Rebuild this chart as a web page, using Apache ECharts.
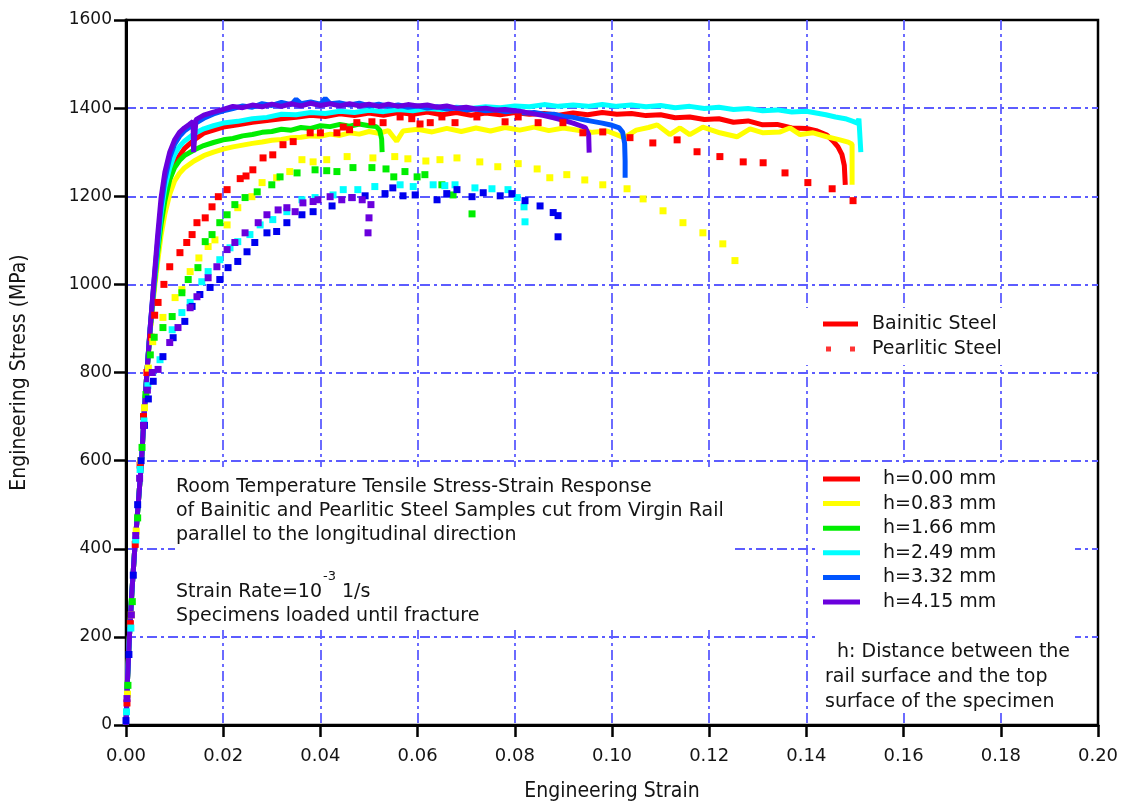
<!DOCTYPE html>
<html>
<head>
<meta charset="utf-8">
<script src="https://cdn.jsdelivr.net/npm/echarts@6/dist/echarts.min.js"></script>
<style>
  html, body { margin: 0; padding: 0; background: #ffffff; }
  #chart { width: 1126px; height: 807px; }
</style>
</head>
<body>
<div id="chart"></div>
<script>
// Tensile test curves: [engineering strain, engineering stress (MPa)]

// Bainitic steel (continuous records)
const bainH000 = [[0,0],[0.0003,100],[0.0007,200],[0.0012,300],[0.0018,400],[0.0025,500],[0.0032,600],[0.0037,700],[0.0043,800],[0.005,900],[0.0058,1000],[0.0065,1070],[0.0072,1140],[0.008,1195],[0.009,1240],[0.010,1272],[0.011,1292],[0.012,1308],[0.014,1328],[0.016,1343],[0.018,1350],[0.020,1357],[0.023,1362],[0.026,1368],[0.029,1372],[0.032,1376],[0.035,1379],[0.038,1384],[0.041,1381],[0.044,1387],[0.047,1383],[0.050,1389],[0.053,1384],[0.056,1390],[0.059,1386],[0.062,1391],[0.065,1385],[0.068,1390],[0.071,1384],[0.074,1389],[0.077,1385],[0.080,1390],[0.083,1386],[0.086,1388],[0.089,1384],[0.092,1389],[0.095,1385],[0.098,1390],[0.101,1386],[0.104,1388],[0.107,1383],[0.110,1385],[0.113,1378],[0.116,1380],[0.119,1374],[0.122,1376],[0.125,1368],[0.128,1371],[0.131,1362],[0.134,1363],[0.137,1355],[0.140,1354],[0.142,1349],[0.1442,1339],[0.1455,1325],[0.1465,1312],[0.1473,1295],[0.1478,1270],[0.148,1226]];
const bainH083 = [[0,0],[0.0003,100],[0.0007,200],[0.0012,300],[0.0018,400],[0.0025,500],[0.0032,600],[0.0037,700],[0.0043,800],[0.005,895],[0.0058,985],[0.0065,1050],[0.0072,1110],[0.008,1160],[0.009,1205],[0.010,1235],[0.011,1252],[0.012,1264],[0.014,1280],[0.016,1292],[0.018,1300],[0.020,1307],[0.022,1312],[0.024,1316],[0.026,1320],[0.028,1323],[0.030,1327],[0.032,1329],[0.034,1333],[0.036,1334],[0.038,1337],[0.040,1336],[0.042,1341],[0.044,1338],[0.046,1344],[0.048,1341],[0.050,1347],[0.052,1343],[0.054,1349],[0.0557,1325],[0.057,1348],[0.060,1352],[0.063,1346],[0.066,1354],[0.069,1347],[0.072,1355],[0.075,1348],[0.078,1356],[0.081,1350],[0.084,1357],[0.087,1349],[0.090,1355],[0.093,1350],[0.096,1345],[0.099,1348],[0.1025,1333],[0.105,1350],[0.1075,1356],[0.1093,1362],[0.1119,1340],[0.114,1355],[0.116,1340],[0.1187,1357],[0.1222,1344],[0.1257,1335],[0.1284,1353],[0.1311,1344],[0.1346,1346],[0.1366,1355],[0.1387,1340],[0.1414,1344],[0.1442,1335],[0.1469,1328],[0.1486,1323],[0.1494,1318],[0.1494,1226]];
const bainH166 = [[0,0],[0.0003,100],[0.0007,200],[0.0012,300],[0.0018,400],[0.0025,500],[0.0032,600],[0.0037,700],[0.0043,800],[0.005,900],[0.0058,995],[0.0065,1070],[0.0072,1135],[0.008,1190],[0.009,1238],[0.010,1265],[0.011,1281],[0.012,1292],[0.014,1305],[0.016,1315],[0.018,1322],[0.020,1328],[0.022,1331],[0.024,1337],[0.026,1340],[0.028,1345],[0.030,1347],[0.032,1352],[0.034,1350],[0.036,1356],[0.038,1354],[0.040,1360],[0.042,1358],[0.044,1363],[0.046,1359],[0.048,1364],[0.050,1360],[0.0515,1358],[0.0522,1350],[0.0526,1330],[0.0527,1300]];
const bainH249 = [[0,0],[0.0003,100],[0.0007,200],[0.0012,300],[0.0018,400],[0.0025,500],[0.0032,600],[0.0037,700],[0.0043,800],[0.005,905],[0.0058,1005],[0.0065,1085],[0.0072,1160],[0.008,1220],[0.009,1265],[0.010,1295],[0.011,1313],[0.012,1325],[0.014,1342],[0.016,1353],[0.018,1360],[0.020,1366],[0.023,1370],[0.026,1376],[0.029,1379],[0.032,1386],[0.035,1385],[0.038,1390],[0.041,1388],[0.044,1393],[0.047,1390],[0.050,1395],[0.053,1392],[0.056,1397],[0.059,1394],[0.062,1399],[0.065,1397],[0.068,1402],[0.071,1399],[0.074,1403],[0.077,1401],[0.080,1405],[0.083,1403],[0.086,1408],[0.089,1404],[0.092,1407],[0.095,1404],[0.098,1408],[0.101,1404],[0.104,1407],[0.107,1403],[0.110,1406],[0.113,1401],[0.116,1404],[0.119,1399],[0.122,1402],[0.125,1397],[0.128,1399],[0.131,1394],[0.134,1396],[0.137,1391],[0.140,1393],[0.142,1389],[0.144,1385],[0.146,1380],[0.148,1376],[0.1496,1370],[0.1505,1366],[0.1508,1376],[0.1512,1376],[0.1512,1300]];
const bainH332 = [[0,0],[0.0003,100],[0.0007,200],[0.0012,300],[0.0018,400],[0.0025,500],[0.0032,600],[0.0037,700],[0.0043,800],[0.005,905],[0.0058,1010],[0.0065,1095],[0.0072,1175],[0.008,1238],[0.009,1288],[0.010,1318],[0.011,1336],[0.012,1348],[0.014,1364],[0.016,1377],[0.018,1387],[0.020,1394],[0.022,1399],[0.024,1405],[0.026,1402],[0.028,1410],[0.030,1406],[0.032,1413],[0.034,1408],[0.035,1420],[0.036,1410],[0.038,1414],[0.040,1409],[0.041,1422],[0.042,1410],[0.044,1412],[0.046,1407],[0.048,1411],[0.050,1405],[0.052,1409],[0.054,1404],[0.056,1407],[0.058,1402],[0.060,1405],[0.062,1400],[0.064,1403],[0.066,1398],[0.068,1400],[0.070,1396],[0.072,1398],[0.074,1394],[0.076,1396],[0.078,1392],[0.080,1394],[0.082,1389],[0.084,1390],[0.086,1386],[0.088,1386],[0.090,1381],[0.092,1379],[0.094,1374],[0.096,1370],[0.098,1366],[0.100,1361],[0.1015,1355],[0.1022,1345],[0.1026,1320],[0.1027,1280],[0.1027,1242]];
const bainH415 = [[0,0],[0.0003,100],[0.0007,200],[0.0012,300],[0.0018,400],[0.0025,500],[0.0032,600],[0.0037,700],[0.0043,800],[0.005,905],[0.0058,1015],[0.0065,1110],[0.0072,1195],[0.008,1255],[0.009,1300],[0.010,1328],[0.011,1345],[0.012,1355],[0.013,1363],[0.0138,1370],[0.0139,1300],[0.0143,1300],[0.0144,1374],[0.016,1384],[0.018,1391],[0.020,1397],[0.022,1404],[0.024,1401],[0.026,1407],[0.028,1403],[0.030,1409],[0.032,1404],[0.034,1410],[0.036,1405],[0.038,1411],[0.040,1406],[0.042,1410],[0.044,1405],[0.046,1410],[0.048,1405],[0.050,1409],[0.052,1404],[0.054,1409],[0.056,1404],[0.058,1408],[0.060,1405],[0.062,1407],[0.064,1402],[0.066,1405],[0.068,1400],[0.070,1402],[0.072,1398],[0.074,1400],[0.076,1396],[0.078,1397],[0.080,1394],[0.082,1391],[0.084,1387],[0.086,1383],[0.088,1378],[0.090,1372],[0.092,1366],[0.0935,1360],[0.0945,1356],[0.0952,1340],[0.0953,1299]];

// Pearlitic steel (sampled records)
const pearlH000 = [[0.0002,50],[0.0009,230],[0.0019,410],[0.0029,590],[0.0036,700],[0.0043,800],[0.0052,880],[0.0059,930],[0.0066,959],[0.0078,1000],[0.009,1040],[0.0111,1072],[0.0125,1095],[0.0136,1113],[0.0146,1140],[0.0163,1151],[0.0177,1176],[0.019,1199],[0.0208,1215],[0.0235,1240],[0.0247,1246],[0.0261,1260],[0.0282,1287],[0.0302,1294],[0.0323,1317],[0.0344,1324],[0.0379,1344],[0.040,1344],[0.0434,1344],[0.0447,1357],[0.046,1351],[0.0475,1367],[0.0506,1369],[0.0529,1367],[0.0564,1380],[0.0588,1376],[0.0605,1364],[0.0626,1367],[0.065,1380],[0.0677,1367],[0.0722,1380],[0.078,1369],[0.0807,1380],[0.0848,1367],[0.0899,1367],[0.094,1344],[0.0981,1346],[0.1037,1333],[0.1084,1321],[0.1134,1328],[0.1175,1301],[0.1222,1290],[0.127,1278],[0.1311,1276],[0.1356,1253],[0.1403,1231],[0.1453,1217],[0.1496,1190]];
const pearlH083 = [[0.0003,70],[0.0011,250],[0.0021,440],[0.003,600],[0.0038,720],[0.0046,810],[0.0055,870],[0.0076,925],[0.0101,970],[0.0115,988],[0.0132,1029],[0.015,1060],[0.0169,1086],[0.0183,1101],[0.0208,1135],[0.023,1174],[0.0259,1199],[0.028,1231],[0.031,1242],[0.0337,1256],[0.0362,1283],[0.0385,1278],[0.0413,1283],[0.0455,1290],[0.0508,1287],[0.0553,1290],[0.058,1285],[0.0617,1280],[0.0646,1283],[0.0681,1287],[0.0728,1278],[0.0765,1267],[0.0807,1274],[0.0846,1262],[0.0872,1242],[0.0907,1249],[0.0944,1237],[0.0981,1226],[0.1031,1217],[0.1064,1194],[0.1105,1167],[0.1146,1140],[0.1187,1117],[0.1228,1092],[0.1253,1054]];
const pearlH166 = [[0.0004,90],[0.0013,280],[0.0024,470],[0.0033,630],[0.0041,750],[0.005,840],[0.0058,880],[0.0076,902],[0.0095,927],[0.0115,981],[0.0128,1011],[0.0148,1038],[0.0163,1097],[0.0177,1113],[0.0193,1140],[0.0208,1158],[0.0224,1181],[0.0245,1197],[0.027,1210],[0.03,1226],[0.0317,1244],[0.0352,1253],[0.0389,1260],[0.0413,1258],[0.0434,1256],[0.0467,1265],[0.0506,1265],[0.0535,1262],[0.0551,1244],[0.0574,1256],[0.0599,1244],[0.0615,1249],[0.065,1226],[0.0673,1203],[0.0712,1160]];
const pearlH249 = [[0.0001,30],[0.001,220],[0.002,420],[0.0029,580],[0.0037,690],[0.0045,770],[0.0055,800],[0.007,829],[0.0095,897],[0.0115,936],[0.0132,959],[0.0156,1006],[0.0169,1029],[0.0193,1056],[0.0214,1083],[0.023,1097],[0.0255,1113],[0.0276,1135],[0.0302,1147],[0.0331,1165],[0.0362,1192],[0.0389,1197],[0.0426,1203],[0.0447,1215],[0.0477,1215],[0.0512,1222],[0.0564,1226],[0.0591,1222],[0.0632,1226],[0.0656,1224],[0.0677,1226],[0.0718,1219],[0.0753,1217],[0.0786,1215],[0.0805,1197],[0.0819,1176],[0.0821,1142]];
const pearlH332 = [[0,10],[0.0006,160],[0.0015,340],[0.0024,500],[0.0031,600],[0.0038,680],[0.0046,740],[0.0056,780],[0.0076,836],[0.0097,879],[0.0121,916],[0.0136,950],[0.0152,977],[0.0173,993],[0.0193,1011],[0.021,1038],[0.023,1052],[0.0249,1074],[0.0265,1095],[0.029,1117],[0.031,1120],[0.0331,1140],[0.0362,1158],[0.0385,1165],[0.0424,1178],[0.0465,1197],[0.0492,1201],[0.0533,1206],[0.0549,1219],[0.057,1201],[0.0595,1203],[0.064,1192],[0.066,1206],[0.0681,1215],[0.0712,1199],[0.0735,1208],[0.077,1201],[0.0794,1206],[0.0821,1190],[0.0852,1178],[0.0879,1163],[0.0889,1156],[0.0889,1108]];
const pearlH415 = [[0.0002,60],[0.0011,250],[0.002,430],[0.0028,560],[0.0036,680],[0.0044,760],[0.0054,800],[0.0066,807],[0.009,868],[0.0107,902],[0.0132,947],[0.0146,972],[0.0169,1015],[0.0187,1040],[0.0208,1079],[0.0224,1095],[0.0245,1117],[0.0272,1140],[0.029,1158],[0.0313,1169],[0.0331,1174],[0.0348,1165],[0.0364,1185],[0.0385,1188],[0.0395,1192],[0.042,1199],[0.0444,1192],[0.0465,1197],[0.0486,1192],[0.0504,1181],[0.05,1151],[0.0498,1117]];

// Specimen depth labels and the steel types
const depthLabels = ['h=0.00 mm', 'h=0.83 mm', 'h=1.66 mm', 'h=2.49 mm', 'h=3.32 mm', 'h=4.15 mm'];
const steelTypes = ['Bainitic Steel', 'Pearlitic Steel'];

// Annotation texts
const noteTest = ['Room Temperature Tensile Stress-Strain Response', 'of Bainitic and Pearlitic Steel Samples cut from Virgin Rail', 'parallel to the longitudinal direction'];
const noteRate = ['Strain Rate=10', '-3', ' 1/s'];
const noteFracture = 'Specimens loaded until fracture';
const noteDepth = ['  h: Distance between the', 'rail surface and the top', 'surface of the specimen'];

const bainitic = [bainH000, bainH083, bainH166, bainH249, bainH332, bainH415];
const pearlitic = [pearlH000, pearlH083, pearlH166, pearlH249, pearlH332, pearlH415];
const lineColors = ['#ff0000', '#ffff00', '#00ee00', '#00ffff', '#0055ff', '#6a00dd'];
const dotColors = ['#ff0000', '#ffff00', '#00ee00', '#00ffff', '#0000ee', '#6a00dd'];

const FONT = '"DejaVu Sans", Verdana, sans-serif';
const TITLE_FONT = '"DejaVu Sans Condensed", "DejaVu Sans", sans-serif';
const gridLine = { color: '#5c5cff', width: 1.8, type: [10, 4, 3, 4] };

const series = [];
bainitic.forEach((d, i) => {
  series.push({
    name: depthLabels[i], type: 'line', data: d, showSymbol: false, symbol: 'none',
    color: lineColors[i], lineStyle: { width: 5, color: lineColors[i], opacity: 1 }, z: 2, silent: true
  });
});
pearlitic.forEach((d, i) => {
  series.push({
    name: depthLabels[i], type: 'scatter', data: d, symbol: 'rect', symbolSize: 7,
    itemStyle: { color: dotColors[i], opacity: 1 }, z: 3, silent: true
  });
});
// series that only feed the steel-type legend
series.push({ name: steelTypes[0], type: 'line', data: [], color: '#ff0000' });
series.push({ name: steelTypes[1], type: 'scatter', data: [], color: '#ff0000' });

// text measurement for the superscript placement
const measure = (txt, font) => {
  const ctx = document.createElement('canvas').getContext('2d');
  ctx.font = font;
  return ctx.measureText(txt).width;
};
const NOTE_FONT = '19px ' + FONT;
const SUP_FONT = '13px ' + FONT;
const rateBaseW = measure(noteRate[0], NOTE_FONT);
const rateSupW = measure(noteRate[1], SUP_FONT);

const whiteBox = (x, y, w, h) => ({ type: 'rect', shape: { x, y, width: w, height: h }, style: { fill: '#ffffff' }, z: 1, silent: true });
const note = (x, y, text, lh, font) => ({ type: 'text', x, y, z: 5, silent: true,
  style: { text, font: font || NOTE_FONT, fill: '#141414', lineHeight: lh, verticalAlign: 'top', align: 'left' } });

const chart = echarts.init(document.getElementById('chart'), null, { renderer: 'canvas' });
chart.setOption({
  animation: false,
  backgroundColor: '#ffffff',
  grid: { left: 126, right: 28, top: 20, bottom: 81, show: true, borderColor: '#000', borderWidth: 2.5, backgroundColor: 'transparent' },
  xAxis: {
    type: 'value', min: 0, max: 0.2, interval: 0.02,
    name: 'Engineering Strain', nameLocation: 'middle', nameGap: 56,
    nameTextStyle: { fontFamily: TITLE_FONT, fontSize: 21, color: '#141414' },
    axisLine: { onZero: false, lineStyle: { color: '#000', width: 3 } },
    axisTick: { length: 12, lineStyle: { color: '#000', width: 2.5 } },
    axisLabel: { margin: 22, fontFamily: FONT, fontSize: 18, color: '#141414', formatter: v => v.toFixed(2) },
    splitLine: { show: true, showMinLine: false, showMaxLine: false, lineStyle: gridLine }
  },
  yAxis: {
    type: 'value', min: 0, max: 1600, interval: 200,
    name: 'Engineering Stress (MPa)', nameLocation: 'middle', nameGap: 96,
    nameTextStyle: { fontFamily: TITLE_FONT, fontSize: 21, color: '#141414' },
    axisLine: { onZero: false, lineStyle: { color: '#000', width: 3 } },
    axisTick: { length: 12, lineStyle: { color: '#000', width: 2.5 } },
    axisLabel: { margin: 14, fontFamily: FONT, fontSize: 17, color: '#141414', formatter: v => String(Math.round(v)) },
    splitLine: { show: true, showMinLine: false, showMaxLine: false, lineStyle: gridLine }
  },
  legend: [
    {
      orient: 'vertical', left: 823, top: 311.5, padding: 0, itemGap: 0,
      itemWidth: 35, itemHeight: 5, selectedMode: false,
      itemStyle: { borderWidth: 0 },
      data: [{ name: steelTypes[0], icon: 'rect' }, { name: steelTypes[1], icon: 'path://M0,0h5v5h-5z M24,0h5v5h-5z' }],
      formatter: '{g|}{name}',
      textStyle: { fontFamily: FONT, fontSize: 19, color: '#141414', lineHeight: 25, rich: { g: { width: 9 } } }
    },
    {
      orient: 'vertical', left: 823, top: 466.7, padding: 0, itemGap: 0,
      itemWidth: 37, itemHeight: 5, selectedMode: false,
      itemStyle: { borderWidth: 0 },
      data: depthLabels.map(n => ({ name: n, icon: 'rect' })),
      formatter: '{g|}{name}',
      textStyle: { fontFamily: FONT, fontSize: 19, color: '#141414', lineHeight: 24.6, rich: { g: { width: 18 } } }
    }
  ],
  graphic: [
    whiteBox(175, 467, 560, 163),
    whiteBox(803, 308, 210, 57),
    whiteBox(817, 463, 258, 250),
    note(176, 475, noteTest.join('\n'), 24),
    note(176, 580, noteRate[0], 24),
    note(176 + rateBaseW + 1, 570, noteRate[1], 14, SUP_FONT),
    note(176 + rateBaseW + 1 + rateSupW, 580, noteRate[2], 24),
    note(176, 604, noteFracture, 24),
    note(825, 639.5, noteDepth.join('\n'), 25)
  ],
  series
});
</script>
</body>
</html>
